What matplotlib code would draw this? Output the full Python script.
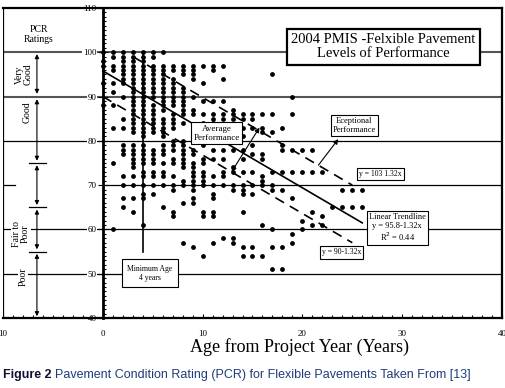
import matplotlib
matplotlib.use('Agg')
import matplotlib.pyplot as plt
from matplotlib.ticker import MultipleLocator

# PCR readings per age (years since project)
ages = list(range(27))
pcr_values = [
    [100, 98, 97, 93, 88],
    [100, 99, 97, 96, 93, 91, 88, 83, 75, 60],
    [100, 99, 98, 97, 96, 95, 94, 93, 90, 85, 83, 79, 78, 77, 72, 70, 67, 65],
    [100, 99, 98, 97, 96, 95, 94, 93, 92, 91, 90, 89, 88, 87, 86, 85, 84, 83, 82,
     79, 78, 77, 76, 75, 74, 72, 70, 67, 64],
    [100, 99, 98, 97, 96, 95, 94, 93, 92, 91, 90, 89, 88, 87, 86, 85, 84, 83, 82,
     81, 79, 78, 77, 76, 75, 73, 72, 70, 68, 67, 61],
    [100, 99, 97, 96, 95, 94, 93, 92, 91, 90, 88, 87, 86, 85, 84, 83, 82, 78, 77,
     76, 75, 73, 72, 70, 68],
    [100, 97, 96, 95, 94, 93, 92, 91, 90, 89, 88, 87, 85, 84, 83, 82, 81, 79, 78,
     77, 75, 73, 72, 70, 65],
    [97, 96, 94, 93, 92, 91, 90, 89, 88, 86, 85, 84, 83, 80, 79, 78, 76, 75, 72,
     70, 69, 64, 63],
    [97, 96, 95, 92, 91, 90, 89, 88, 87, 86, 84, 80, 79, 78, 77, 76, 75, 74, 71,
     70, 66, 57],
    [97, 96, 95, 94, 90, 87, 86, 82, 78, 77, 75, 74, 73, 72, 71, 70, 69, 67, 66, 56],
    [97, 93, 89, 86, 84, 82, 80, 79, 76, 75, 73, 72, 71, 70, 64, 63, 54],
    [97, 96, 89, 86, 85, 84, 82, 80, 78, 76, 72, 70, 68, 67, 64, 63, 57],
    [97, 94, 89, 86, 85, 82, 80, 78, 76, 73, 72, 70, 58],
    [87, 86, 85, 80, 78, 74, 73, 70, 69, 58, 57],
    [86, 85, 83, 81, 78, 76, 73, 70, 69, 68, 64, 56, 54],
    [86, 85, 83, 79, 77, 73, 70, 68, 56, 54],
    [86, 83, 82, 77, 76, 72, 71, 70, 61, 54],
    [95, 86, 82, 73, 70, 69, 60, 56, 51],
    [83, 79, 78, 73, 69, 56, 51],
    [90, 86, 78, 73, 67, 59, 57],
    [78, 73, 62, 60],
    [78, 73, 64, 61],
    [73, 63, 61],
    [65],
    [69, 65],
    [69, 65],
    [69, 65],
]

# performance lines y = a - 1.32x
slope = -1.32
intercepts = [103, 95.8, 90]
line_x_ranges = [(3, 25), (0, 26), (0, 25)]

ytick_vals = [40, 50, 60, 70, 80, 90, 100, 110]
xtick_vals = [-10, 0, 10, 20, 30, 40]
xtick_labels = ['10', '0', '10', '20', '30', '40']

serif = 'Liberation Serif'

fig = plt.figure(figsize=(5.06, 3.88), dpi=100)
ax = fig.add_axes([3 / 506, 1 - 318 / 388, 499 / 506, 310 / 388])
ax.set_xlim(-10, 40)
ax.set_ylim(40, 110)

# frame
for s in ['top', 'right', 'bottom']:
    ax.spines[s].set_linewidth(1.6)
ax.spines['left'].set_position(('data', 0))
ax.spines['left'].set_linewidth(2)
ax.axvline(-10, color='k', lw=1.6)

# ticks
ax.set_yticks(ytick_vals)
ax.yaxis.set_minor_locator(MultipleLocator(1))
ax.tick_params(axis='y', which='major', direction='inout', length=7, width=0.8,
               labelsize=6.5, pad=1)
ax.tick_params(axis='y', which='minor', direction='in', length=2.5, width=0.8)
ax.set_xticks(xtick_vals)
ax.set_xticklabels(xtick_labels)
ax.xaxis.set_minor_locator(MultipleLocator(1))
ax.tick_params(axis='x', which='major', direction='in', length=3, width=0.8,
               labelsize=6.5, pad=9)
ax.tick_params(axis='x', which='minor', direction='in', length=2.5, width=0.8)
for lab in ax.get_yticklabels() + ax.get_xticklabels():
    lab.set_fontfamily(serif)
for lab in ax.get_yticklabels():
    lab.set_bbox(dict(facecolor='white', edgecolor='none', pad=0.5))

# rating grid lines
for yv, col, lw in [(100, '#555555', 1.5), (90, '#555555', 1.5), (80, 'k', 0.9),
                    (60, 'k', 0.9), (50, 'k', 0.9)]:
    ax.axhline(yv, color=col, lw=lw, zorder=1)
ax.plot([0, 40], [70, 70], color='k', lw=0.9, zorder=1)
ax.plot([-10, -8.8], [70, 70], color='k', lw=0.9, zorder=1)

# scatter
xs = [a for a, vals in zip(ages, pcr_values) for v in vals]
ys = [v for a, vals in zip(ages, pcr_values) for v in vals]
ax.scatter(xs, ys, s=12, color='k', marker='o', linewidths=0, zorder=3)

# performance lines
for i, (b, (x0, x1)) in enumerate(zip(intercepts, line_x_ranges)):
    if i == 1:
        ax.plot([x0, x1], [b + slope * x0, b + slope * x1], color='k', lw=1.2, zorder=4)
    else:
        ln, = ax.plot([x0, x1], [b + slope * x0, b + slope * x1], color='k', lw=1.2, zorder=4)
        ln.set_dashes([6, 4])

# minimum age marker
ax.plot([4, 4], [55, 100], color='k', lw=1.2, zorder=4)

# left rating panel
ax_x = -6.6
arrow_spans = [(99.6, 90.6), (89.4, 75.5), (74.5, 65.5), (64.5, 55.5), (54.5, 40.4)]
for top, bot in arrow_spans:
    ax.annotate('', xy=(ax_x, bot), xytext=(ax_x, top),
                arrowprops=dict(arrowstyle='<|-|>', lw=0.8, color='k',
                                mutation_scale=6, shrinkA=0, shrinkB=0))
for yv in [75, 65, 55]:
    ax.plot([-7.4, -5.7], [yv, yv], color='k', lw=0.9)

tb = dict(facecolor='white', edgecolor='none', pad=0.5)
ax.text(-6.4, 104, 'PCR\nRatings', family=serif, fontsize=7, ha='center', va='center',
        linespacing=1.1)
ax.text(-7.9, 95, 'Very\nGood', family=serif, fontsize=7, ha='center', va='center',
        rotation=90, linespacing=1.0, bbox=tb)
ax.text(-7.6, 86.5, 'Good', family=serif, fontsize=7, ha='center', va='center',
        rotation=90, bbox=tb)
ax.text(-8.2, 59, 'Fair to\nPoor', family=serif, fontsize=7, ha='center', va='center',
        rotation=90, linespacing=1.0, bbox=tb)
ax.text(-8.0, 49.4, 'Poor', family=serif, fontsize=7, ha='center', va='center',
        rotation=90, bbox=tb)

# boxes
ax.text(28.1, 101.2, '2004 PMIS -Felxible Pavement\nLevels of Performance',
        family=serif, fontsize=10.5, ha='center', va='center', linespacing=1.1,
        bbox=dict(facecolor='white', edgecolor='k', lw=1.6, pad=3), zorder=6)
ax.text(11.4, 81.7, 'Average\nPerformance', family=serif, fontsize=6.5,
        ha='center', va='center', linespacing=1.1,
        bbox=dict(facecolor='white', edgecolor='k', lw=0.8, pad=2), zorder=6)
ax.annotate('', xy=(12.9, 73.0), xytext=(15.7, 83.0),
            arrowprops=dict(arrowstyle='<|-|>', lw=0.8, color='k',
                            mutation_scale=7, shrinkA=0, shrinkB=0), zorder=5)
ax.text(25.2, 83.4, 'Eceptional\nPerformance', family=serif, fontsize=6,
        ha='center', va='center', linespacing=1.1,
        bbox=dict(facecolor='white', edgecolor='k', lw=0.8, pad=1.5), zorder=6)
ax.annotate('', xy=(23.6, 80.4), xytext=(21.6, 74.5),
            arrowprops=dict(arrowstyle='-|>', lw=0.8, color='k',
                            mutation_scale=7, shrinkA=0, shrinkB=0), zorder=5)
ax.text(27.8, 72.5, 'y = 103 1.32x', family=serif, fontsize=5.5,
        ha='center', va='center',
        bbox=dict(facecolor='white', edgecolor='k', lw=0.8, pad=1.5), zorder=6)
ax.text(29.5, 60.3, 'Linear Trendline\ny = 95.8-1.32x\nR$^2$ = 0.44', family=serif,
        fontsize=6, ha='center', va='center', linespacing=1.1,
        bbox=dict(facecolor='white', edgecolor='k', lw=0.8, pad=1.5), zorder=6)
ax.text(23.9, 54.8, 'y = 90-1.32x', family=serif, fontsize=5.5,
        ha='center', va='center',
        bbox=dict(facecolor='white', edgecolor='k', lw=0.8, pad=1.5), zorder=6)
ax.text(4.7, 50.1, 'Minimum Age\n4 years', family=serif, fontsize=5.5,
        ha='center', va='center', linespacing=1.2,
        bbox=dict(facecolor='white', edgecolor='k', lw=0.8, pad=4), zorder=6)

# axis label
fig.text(300 / 506, 1 - 347 / 388, 'Age from Project Year (Years)', family=serif,
         fontsize=13, ha='center', va='center')

# caption
t1 = fig.text(3 / 506, 1 - 375 / 388, 'Figure 2', family='Liberation Sans',
              fontsize=9, fontweight='bold', color='#111133', ha='left', va='center')
fig.canvas.draw()
bb = t1.get_window_extent(fig.canvas.get_renderer())
fig.text((bb.x1 + 4) / 506, 1 - 375 / 388,
         'Pavement Condition Rating (PCR) for Flexible Pavements Taken From [13]',
         family='Liberation Sans', fontsize=9, color='#1f3d7a', ha='left', va='center')

fig.savefig('out.png', dpi=100)
